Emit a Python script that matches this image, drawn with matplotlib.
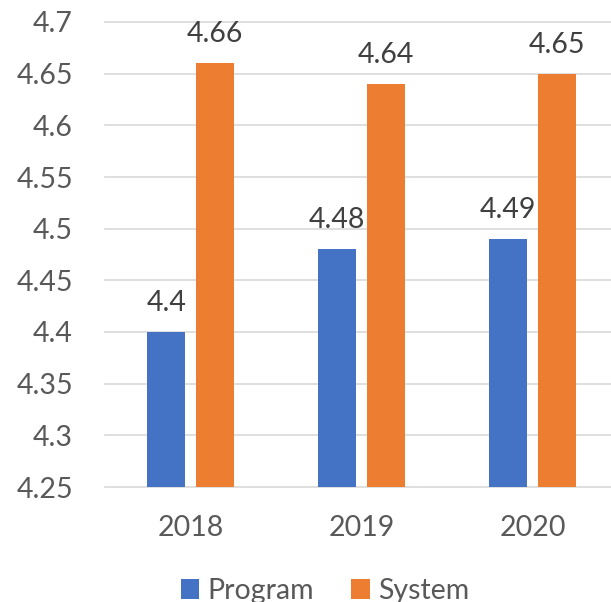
import matplotlib
matplotlib.use("Agg")
import matplotlib.pyplot as plt
from matplotlib.patches import Patch
import numpy as np

# Chart data
years = ["2018", "2019", "2020"]
program = [4.4, 4.48, 4.49]
system = [4.66, 4.64, 4.65]
y_ticks = [4.25, 4.3, 4.35, 4.4, 4.45, 4.5, 4.55, 4.6, 4.65, 4.7]
series_names = ["Program", "System"]

BLUE = "#4472C4"
ORANGE = "#ED7D31"
GRID = "#D9D9D9"
TICK_COLOR = "#595959"
LABEL_COLOR = "#404040"

plt.rcParams["font.family"] = ["Lato", "DejaVu Sans"]

W, H = 611, 602
fig = plt.figure(figsize=(W / 100, H / 100), dpi=100)
ax = fig.add_axes([105 / W, 1 - 487 / H, (618 - 105) / W, (487 - 22) / H])

x = np.arange(len(years))
bar_w = 0.222
offset = 0.141

bars_p = ax.bar(x - offset, program, bar_w, color=BLUE, zorder=2)
bars_s = ax.bar(x + offset, system, bar_w, color=ORANGE, zorder=2)

for bars, vals in ((bars_p, program), (bars_s, system)):
    for b, v in zip(bars, vals):
        ax.annotate(f"{v:g}", (b.get_x() + b.get_width() / 2, v),
                    xytext=(0, 15), textcoords="offset points",
                    ha="center", va="baseline", fontsize=20.5,
                    color=LABEL_COLOR)

ax.set_xlim(-0.5, len(years) - 0.5)
ax.set_ylim(4.25, 4.7)
ax.set_yticks(y_ticks)
ax.set_yticklabels([f"{t:g}" for t in y_ticks])
ax.set_xticks(x)
ax.set_xticklabels(years)

ax.tick_params(axis="y", length=0, pad=23, labelsize=20.5, colors=TICK_COLOR)
ax.tick_params(axis="x", length=0, pad=20, labelsize=20.5, colors=TICK_COLOR)

for s in ax.spines.values():
    s.set_visible(False)

ax.set_axisbelow(True)
ax.yaxis.grid(True, color=GRID, linewidth=1.2)
for gl in ax.get_ygridlines():
    gl.set_clip_on(False)

handles = [Patch(facecolor=BLUE), Patch(facecolor=ORANGE)]
fig.legend(handles, series_names, loc="center",
           bbox_to_anchor=(325 / W, 1 - 591 / H), ncol=2, frameon=False,
           fontsize=20.5, labelcolor=TICK_COLOR, handlelength=0.65,
           handleheight=0.65, handletextpad=0.3, columnspacing=1.3,
           borderpad=0, borderaxespad=0)

fig.savefig("out.png", dpi=100)
